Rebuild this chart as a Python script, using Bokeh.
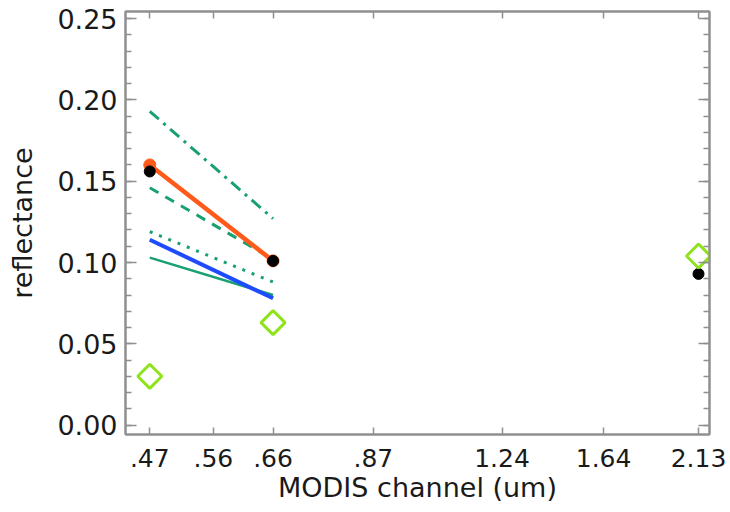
import numpy as np
from bokeh.plotting import figure
from bokeh.models import (Range1d, LinearAxis, LogAxis, FixedTicker,
                          SingleIntervalTicker, PrintfTickFormatter,
                          CustomJSTickFormatter)
from bokeh.embed import file_html
from bokeh.resources import INLINE

# MODIS channel centres (um) and their tick labels
channels = [0.47, 0.56, 0.66, 0.87, 1.24, 1.64, 2.13]
channel_labels = [".47", ".56", ".66", ".87", "1.24", "1.64", "2.13"]

# modelled reflectance at the two visible channels
line_x = [0.47, 0.66]
dashdot_green = [0.193, 0.127]
orange_model = [0.160, 0.101]
dashed_green = [0.146, 0.102]
dotted_green = [0.119, 0.088]
blue_model = [0.114, 0.078]
thin_green = [0.103, 0.080]

# observed reflectance (black dots) and surface estimate (diamonds)
obs_x = [0.47, 0.66, 2.13]
obs_black = [0.156, 0.101, 0.093]
obs_diamond = [0.030, 0.063, 0.104]

FONT = "DejaVu Sans"
TEXT = "#1a1a1a"
AXIS_GRAY = "#8f8f8f"
GREEN = "#18a070"
ORANGE = "#ff5a1a"
BLUE = "#1f4bff"
LIME = "#8fe31b"

p = figure(width=730, height=512, x_axis_type="log",
           x_range=Range1d(0.4396, 2.1955), y_range=Range1d(-0.0058, 0.2544),
           output_backend="svg", toolbar_location=None,
           min_border_left=125, min_border_right=21,
           min_border_top=11, min_border_bottom=78)
p.grid.visible = False
p.outline_line_color = AXIS_GRAY
p.outline_line_width = 2
p.background_fill_color = "white"
p.border_fill_color = "white"


def style_axis(ax):
    ax.axis_line_color = AXIS_GRAY
    ax.axis_line_width = 2
    ax.major_tick_line_color = AXIS_GRAY
    ax.minor_tick_line_color = AXIS_GRAY
    ax.major_tick_line_width = 1.5
    ax.minor_tick_line_width = 1.5
    ax.major_tick_out = 0
    ax.minor_tick_out = 0
    ax.major_label_text_font = FONT
    ax.major_label_text_color = TEXT
    ax.axis_label_text_font = FONT
    ax.axis_label_text_color = TEXT
    ax.axis_label_text_font_style = "normal"


def tick_only(ax):
    # mirrored frame axis: ticks only, no labels
    style_axis(ax)
    ax.formatter = CustomJSTickFormatter(code="return ''")
    ax.major_label_standoff = 0


x_ticker = FixedTicker(ticks=channels, minor_ticks=[])
y_ticker = SingleIntervalTicker(interval=0.05, num_minor_ticks=5)

# bottom axis
xb = p.xaxis[0]
xb.ticker = x_ticker
xb.major_label_overrides = dict(zip(channels, channel_labels))
style_axis(xb)
xb.major_tick_in = 7
xb.major_label_text_font_size = "25px"
xb.major_label_standoff = 14
xb.axis_label = "MODIS channel (um)"
xb.axis_label_text_font_size = "27px"
xb.axis_label_standoff = 2

# left axis
yl = p.yaxis[0]
yl.ticker = y_ticker
yl.formatter = PrintfTickFormatter(format="%.2f")
style_axis(yl)
yl.major_tick_in = 11
yl.minor_tick_in = 6
yl.major_label_text_font_size = "27px"
yl.major_label_standoff = 8
yl.axis_label = "reflectance"
yl.axis_label_text_font_size = "27px"
yl.axis_label_standoff = 16

# mirrored axes on top and right
xt = LogAxis(ticker=x_ticker)
tick_only(xt)
xt.major_tick_in = 7
p.add_layout(xt, "above")

yr = LinearAxis(ticker=y_ticker)
tick_only(yr)
yr.major_tick_in = 11
yr.minor_tick_in = 6
p.add_layout(yr, "right")

# model lines
p.line(line_x, dashdot_green, line_color=GREEN, line_width=3, line_dash="12 6 3 6")
p.line(line_x, dashed_green, line_color=GREEN, line_width=3, line_dash="10 8")
p.line(line_x, dotted_green, line_color=GREEN, line_width=3, line_dash="3 7")
p.line(line_x, thin_green, line_color=GREEN, line_width=2.5)
p.line(line_x, blue_model, line_color=BLUE, line_width=4)
p.line(line_x, orange_model, line_color=ORANGE, line_width=4.5)
p.scatter(line_x, orange_model, marker="circle", size=12,
          fill_color=ORANGE, line_color=ORANGE)

# observations
p.scatter(obs_x, obs_black, marker="circle", size=11,
          fill_color="black", line_color="black")
p.scatter(obs_x, obs_diamond, marker="square", angle=np.pi / 4, size=17,
          fill_color=None, line_color=LIME, line_width=3)

open("out.html", "w").write(file_html(p, INLINE))
